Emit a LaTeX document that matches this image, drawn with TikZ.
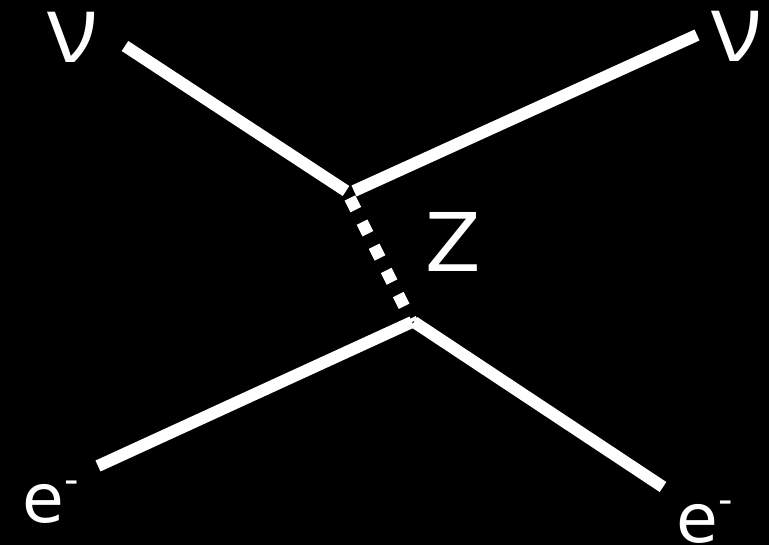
\documentclass[tikz,border=0pt]{standalone}
\usepackage{fontspec}
\setmainfont{DejaVu Sans}
\newfontfamily\nufont{Open Sans}
\begin{document}
\begin{tikzpicture}[x=1pt,y=-1pt,
  fermion/.style={draw=white,line width=12pt,line cap=butt},
  boson/.style={draw=white,line width=12pt,line cap=butt,dash pattern=on 13pt off 14pt},
  lbl/.style={text=white,inner sep=0pt,anchor=center}]
\fill[black] (0,0) rectangle (769,545);
\useasboundingbox (0,0) rectangle (769,545);
\coordinate (a) at (125,46);
\coordinate (b) at (346,191);
\coordinate (c) at (354,191);
\coordinate (d) at (697,35);
\coordinate (v1) at (350,198);
\coordinate (v2) at (412,322);
\coordinate (e) at (98,466);
\coordinate (f) at (414,322);
\coordinate (g) at (663,487);
\draw[fermion] (a) -- (b);
\draw[fermion] (c) -- (d);
\draw[boson] (v1) -- (v2);
\draw[fermion] (e) -- (v2);
\draw[fermion] (f) -- (g);
\node[lbl,anchor=base] (nu1) at (73,63) {\nufont\fontsize{94}{94}\selectfont ν};
\node[lbl,anchor=base] (nu2) at (737,62) {\nufont\fontsize{94}{94}\selectfont ν};
\node[lbl] (z) at (453,242) {\fontsize{81}{81}\selectfont Z};
\node[lbl,anchor=base west] (e1) at (22,522) {\fontsize{68}{68}\selectfont e\raisebox{0.42em}{\fontsize{40}{40}\selectfont -}};
\node[lbl,anchor=base west] (e2) at (676,542) {\fontsize{68}{68}\selectfont e\raisebox{0.42em}{\fontsize{40}{40}\selectfont -}};
\end{tikzpicture}
\end{document}
